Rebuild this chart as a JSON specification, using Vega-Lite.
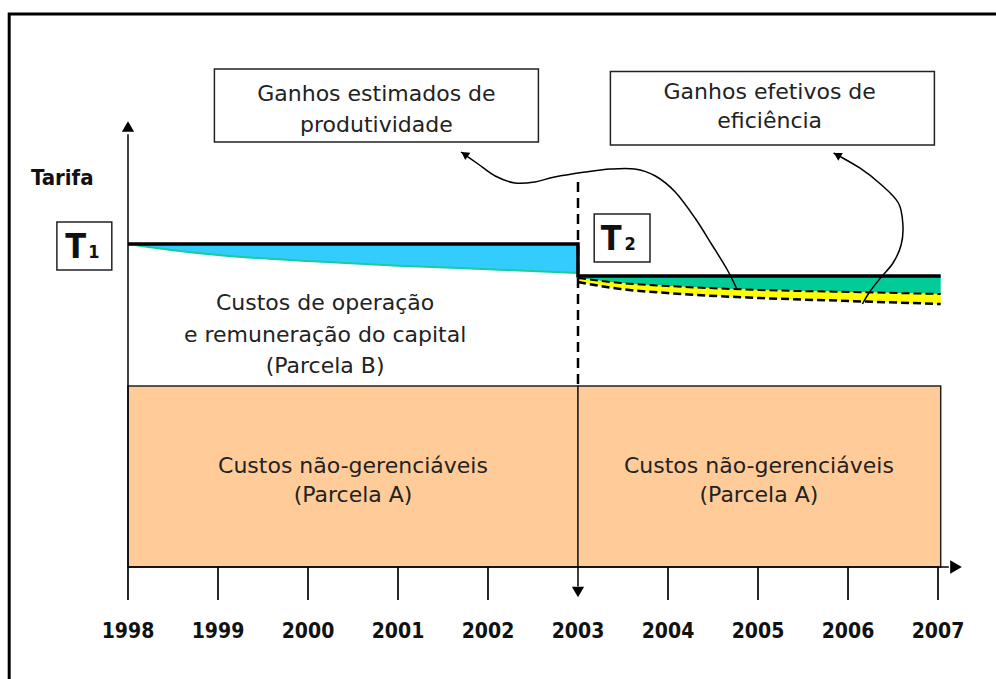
{
  "$schema": "https://vega.github.io/schema/vega-lite/v6.json",
  "width": 996,
  "height": 679,
  "autosize": "none",
  "padding": 0,
  "background": "white",
  "config": {"view": {"stroke": null}},
  "encoding": {
    "x": {"field": "year", "type": "quantitative", "scale": {"domain": [1996.5778, 2007.6444], "nice": false, "zero": false}, "axis": null},
    "y": {"field": "tarifa", "type": "quantitative", "scale": {"domain": [-34.675, 175.542], "nice": false, "zero": false}, "axis": null}
  },
  "layer": [
    {
      "data": {"values": [{"year": 1996.68, "tarifa": 171.2}]},
      "mark": {"type": "rect", "fill": null, "stroke": "black", "strokeWidth": 3},
      "encoding": {"x2": {"datum": 2009}, "y2": {"datum": -45}}
    },
    {
      "data": {"values": [
        {"year": 1998, "year2": 2003, "tarifa": 56},
        {"year": 2003, "year2": 2007.03, "tarifa": 56}
      ]},
      "mark": {"type": "rect", "fill": "#FFCC99", "stroke": "#222222", "strokeWidth": 1.5},
      "encoding": {"x2": {"field": "year2"}, "y2": {"datum": 0}}
    },
    {
      "data": {"name": "blue", "values": [
        {"year": 1998, "tarifa": 100},
        {"year": 1998.5, "tarifa": 98.1},
        {"year": 1999, "tarifa": 96.6},
        {"year": 2000, "tarifa": 94.7},
        {"year": 2001, "tarifa": 93.3},
        {"year": 2002, "tarifa": 92.2},
        {"year": 2003, "tarifa": 91.0}
      ]},
      "layer": [
        {"mark": {"type": "area", "color": "#33CCFF", "interpolate": "monotone"}, "encoding": {"y2": {"datum": 100}}},
        {"mark": {"type": "line", "color": "#19CC99", "strokeWidth": 2, "interpolate": "monotone"}, "encoding": {}}
      ]
    },
    {
      "data": {"values": [
        {"year": 2003.0, "tarifa": 89.47, "lower": 88.24},
        {"year": 2003.47, "tarifa": 87.93, "lower": 86.07},
        {"year": 2003.99, "tarifa": 87.0, "lower": 84.83},
        {"year": 2005.02, "tarifa": 85.76, "lower": 83.28},
        {"year": 2006.02, "tarifa": 85.14, "lower": 82.35},
        {"year": 2007.03, "tarifa": 84.52, "lower": 81.42}
      ]},
      "layer": [
        {"mark": {"type": "area", "color": "#00CC99", "interpolate": "monotone"}, "encoding": {"y2": {"datum": 90.1}}},
        {"mark": {"type": "area", "color": "#FFFF00", "interpolate": "monotone"}, "encoding": {"y2": {"field": "lower"}}},
        {"mark": {"type": "line", "color": "black", "strokeWidth": 2, "strokeDash": [8, 4], "interpolate": "monotone"}, "encoding": {}},
        {"mark": {"type": "line", "color": "black", "strokeWidth": 2.5, "strokeDash": [8, 4], "interpolate": "monotone"},
         "encoding": {"y": {"field": "lower", "type": "quantitative", "scale": {"domain": [-34.675, 175.542], "nice": false, "zero": false}, "axis": null}}}
      ]
    },
    {
      "data": {"values": [
        {"i": 1, "year": 1998, "tarifa": 100},
        {"i": 2, "year": 2003, "tarifa": 100},
        {"i": 3, "year": 2003, "tarifa": 90.1},
        {"i": 4, "year": 2007.03, "tarifa": 90.1}
      ]},
      "mark": {"type": "line", "color": "black", "strokeWidth": 3.5},
      "encoding": {"order": {"field": "i", "type": "quantitative"}}
    },
    {
      "data": {"values": [
        {"year": 1998, "tarifa": 0, "year2": 1998, "tarifa2": 134},
        {"year": 1998, "tarifa": 0, "year2": 2007.12, "tarifa2": 0},
        {"year": 2003, "tarifa": 0, "year2": 2003, "tarifa2": -6}
      ]},
      "mark": {"type": "rule", "color": "black", "strokeWidth": 1.5},
      "encoding": {"x2": {"field": "year2"}, "y2": {"field": "tarifa2"}}
    },
    {
      "data": {"values": [
        {"year": 1998, "tarifa": 0}, {"year": 1999, "tarifa": 0}, {"year": 2000, "tarifa": 0},
        {"year": 2001, "tarifa": 0}, {"year": 2002, "tarifa": 0}, {"year": 2004, "tarifa": 0},
        {"year": 2005, "tarifa": 0}, {"year": 2006, "tarifa": 0}, {"year": 2007, "tarifa": 0}
      ]},
      "mark": {"type": "rule", "color": "black", "strokeWidth": 1.7},
      "encoding": {"y2": {"datum": -10.22}}
    },
    {
      "data": {"values": [{"year": 2003, "tarifa": 119.2, "tarifa2": 56}]},
      "mark": {"type": "rule", "color": "black", "strokeWidth": 2.5, "strokeDash": [10, 6]},
      "encoding": {"y2": {"field": "tarifa2"}}
    },
    {
      "data": {"values": [{"year": 1998, "tarifa": 136.4}]},
      "mark": {"type": "point", "shape": "triangle-up", "filled": true, "color": "black", "size": 150, "opacity": 1}
    },
    {
      "data": {"values": [{"year": 2007.2, "tarifa": 0}]},
      "mark": {"type": "point", "shape": "triangle-right", "filled": true, "color": "black", "size": 180, "opacity": 1}
    },
    {
      "data": {"values": [{"year": 2003, "tarifa": -7.74}]},
      "mark": {"type": "point", "shape": "triangle-down", "filled": true, "color": "black", "size": 150, "opacity": 1}
    },
    {
      "data": {"values": [
        {"year": 1998.96, "year2": 2002.56, "tarifa": 131.58, "tarifa2": 154.18},
        {"year": 2003.36, "year2": 2006.96, "tarifa": 130.65, "tarifa2": 153.41},
        {"year": 1997.21, "year2": 1997.82, "tarifa": 91.95, "tarifa2": 106.81},
        {"year": 2003.18, "year2": 2003.80, "tarifa": 94.43, "tarifa2": 109.29}
      ]},
      "mark": {"type": "rect", "fill": "white", "stroke": "#222222", "strokeWidth": 1.5},
      "encoding": {"x2": {"field": "year2"}, "y2": {"field": "tarifa2"}}
    },
    {
      "data": {"values": [
        {"year": 2000.76, "tarifa": 144.3, "text": "Ganhos estimados de"},
        {"year": 2000.76, "tarifa": 134.8, "text": "produtividade"},
        {"year": 2005.13, "tarifa": 144.8, "text": "Ganhos efetivos de"},
        {"year": 2005.13, "tarifa": 135.8, "text": "eficiência"},
        {"year": 2000.19, "tarifa": 79.57, "text": "Custos de operação"},
        {"year": 2000.19, "tarifa": 69.66, "text": "e remuneração do capital"},
        {"year": 2000.19, "tarifa": 60.06, "text": "(Parcela B)"},
        {"year": 2000.5, "tarifa": 29.1, "text": "Custos não-gerenciáveis"},
        {"year": 2000.5, "tarifa": 20.1, "text": "(Parcela A)"},
        {"year": 2005.01, "tarifa": 29.1, "text": "Custos não-gerenciáveis"},
        {"year": 2005.01, "tarifa": 20.1, "text": "(Parcela A)"}
      ]},
      "mark": {"type": "text", "font": "DejaVu Sans", "fontSize": 22, "color": "#222222", "align": "center", "baseline": "alphabetic"},
      "encoding": {"text": {"field": "text"}}
    },
    {
      "data": {"values": [
        {"year": 1998, "tarifa": -21.98, "text": "1998"}, {"year": 1999, "tarifa": -21.98, "text": "1999"},
        {"year": 2000, "tarifa": -21.98, "text": "2000"}, {"year": 2001, "tarifa": -21.98, "text": "2001"},
        {"year": 2002, "tarifa": -21.98, "text": "2002"}, {"year": 2003, "tarifa": -21.98, "text": "2003"},
        {"year": 2004, "tarifa": -21.98, "text": "2004"}, {"year": 2005, "tarifa": -21.98, "text": "2005"},
        {"year": 2006, "tarifa": -21.98, "text": "2006"}, {"year": 2007, "tarifa": -21.98, "text": "2007"}
      ]},
      "mark": {"type": "text", "font": "DejaVu Sans Condensed", "fontWeight": "bold", "fontSize": 21, "color": "#111111", "align": "center", "baseline": "alphabetic"},
      "encoding": {"text": {"field": "text"}}
    },
    {
      "data": {"values": [{"year": 1997.27, "tarifa": 118.27, "text": "Tarifa"}]},
      "mark": {"type": "text", "font": "DejaVu Sans Condensed", "fontWeight": "bold", "fontSize": 22, "color": "#111111", "align": "center", "baseline": "alphabetic"},
      "encoding": {"text": {"field": "text"}}
    },
    {
      "data": {"values": [
        {"year": 1997.42, "tarifa": 95.67, "text": "T"},
        {"year": 2003.37, "tarifa": 98.14, "text": "T"}
      ]},
      "mark": {"type": "text", "font": "DejaVu Sans Condensed", "fontWeight": "bold", "fontSize": 34, "color": "#111111", "align": "center", "baseline": "alphabetic"},
      "encoding": {"text": {"field": "text"}}
    },
    {
      "data": {"values": [
        {"year": 1997.62, "tarifa": 95.67, "text": "1"},
        {"year": 2003.58, "tarifa": 98.14, "text": "2"}
      ]},
      "mark": {"type": "text", "font": "DejaVu Sans Condensed", "fontWeight": "bold", "fontSize": 18, "color": "#111111", "align": "center", "baseline": "alphabetic"},
      "encoding": {"text": {"field": "text"}}
    },
    {
      "data": {"values": [
        {"curve": "estimados", "i": 1, "year": 2001.70, "tarifa": 128.48},
        {"curve": "estimados", "i": 2, "year": 2001.89, "tarifa": 124.77},
        {"curve": "estimados", "i": 3, "year": 2002.08, "tarifa": 121.05},
        {"curve": "estimados", "i": 4, "year": 2002.30, "tarifa": 118.89},
        {"curve": "estimados", "i": 5, "year": 2002.52, "tarifa": 119.20},
        {"curve": "estimados", "i": 6, "year": 2002.74, "tarifa": 120.74},
        {"curve": "estimados", "i": 7, "year": 2003.08, "tarifa": 122.29},
        {"curve": "estimados", "i": 8, "year": 2003.36, "tarifa": 123.22},
        {"curve": "estimados", "i": 9, "year": 2003.63, "tarifa": 123.22},
        {"curve": "estimados", "i": 10, "year": 2003.86, "tarifa": 121.05},
        {"curve": "estimados", "i": 11, "year": 2004.08, "tarifa": 116.10},
        {"curve": "estimados", "i": 12, "year": 2004.30, "tarifa": 108.05},
        {"curve": "estimados", "i": 13, "year": 2004.49, "tarifa": 99.69},
        {"curve": "estimados", "i": 14, "year": 2004.66, "tarifa": 91.95},
        {"curve": "estimados", "i": 15, "year": 2004.77, "tarifa": 85.76},
        {"curve": "efetivos", "i": 1, "year": 2005.84, "tarifa": 128.17},
        {"curve": "efetivos", "i": 2, "year": 2006.13, "tarifa": 123.53},
        {"curve": "efetivos", "i": 3, "year": 2006.36, "tarifa": 118.58},
        {"curve": "efetivos", "i": 4, "year": 2006.56, "tarifa": 112.69},
        {"curve": "efetivos", "i": 5, "year": 2006.61, "tarifa": 105.88},
        {"curve": "efetivos", "i": 6, "year": 2006.59, "tarifa": 99.69},
        {"curve": "efetivos", "i": 7, "year": 2006.50, "tarifa": 94.12},
        {"curve": "efetivos", "i": 8, "year": 2006.36, "tarifa": 89.47},
        {"curve": "efetivos", "i": 9, "year": 2006.24, "tarifa": 85.14},
        {"curve": "efetivos", "i": 10, "year": 2006.16, "tarifa": 81.42}
      ]},
      "mark": {"type": "line", "color": "black", "strokeWidth": 1.5, "interpolate": "cardinal"},
      "encoding": {"detail": {"field": "curve"}, "order": {"field": "i", "type": "quantitative"}}
    },
    {
      "data": {"values": [{"year": 2001.74, "tarifa": 127.8}]},
      "mark": {"type": "point", "shape": "triangle-up", "filled": true, "color": "black", "size": 80, "opacity": 1, "angle": 305}
    },
    {
      "data": {"values": [{"year": 2005.88, "tarifa": 127.59}]},
      "mark": {"type": "point", "shape": "triangle-up", "filled": true, "color": "black", "size": 80, "opacity": 1, "angle": 300}
    }
  ]
}
